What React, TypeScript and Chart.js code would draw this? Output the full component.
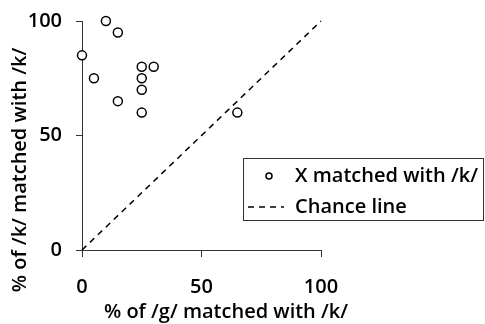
import React, { useEffect, useRef } from "react";
import { Chart, registerables } from "chart.js";

Chart.register(...registerables);

const gPercent = [0, 5, 10, 15, 15, 25, 25, 25, 25, 30, 65];
const kPercent = [85, 75, 100, 95, 65, 80, 75, 70, 60, 80, 60];
const chanceX = [0, 100];
const chanceY = [0, 100];
const tickValues = [0, 50, 100];
const seriesLabels = ["X matched with /k/", "Chance line"];
const xTitle = "% of /g/ matched with /k/";
const yTitle = "% of /k/ matched with /k/";

const FONT = "'Open Sans', 'DejaVu Sans', sans-serif";

const overlayPlugin = {
  id: "overlay",
  afterDraw(chart: any) {
    const ctx = chart.ctx as CanvasRenderingContext2D;
    ctx.save();
    ctx.fillStyle = "#000";
    ctx.strokeStyle = "#000";
    ctx.font = `600 20px ${FONT}`;
    ctx.textBaseline = "middle";
    ctx.textAlign = "center";
    ctx.fillText(xTitle, 226, 312);
    ctx.save();
    ctx.translate(20, 170);
    ctx.rotate(-Math.PI / 2);
    ctx.fillText(yTitle, 0, 0);
    ctx.restore();
    ctx.lineWidth = 1;
    ctx.strokeStyle = "#333";
    ctx.fillStyle = "#fff";
    ctx.fillRect(243.5, 158.5, 240, 62);
    ctx.strokeRect(243.5, 158.5, 240, 62);
    ctx.strokeStyle = "#000";
    ctx.fillStyle = "#000";
    ctx.textAlign = "left";
    ctx.lineWidth = 1.5;
    ctx.beginPath();
    ctx.arc(269, 176, 3, 0, Math.PI * 2);
    ctx.stroke();
    ctx.setLineDash([6, 5]);
    ctx.beginPath();
    ctx.moveTo(248, 207);
    ctx.lineTo(284, 207);
    ctx.stroke();
    ctx.setLineDash([]);
    ctx.font = `600 19px ${FONT}`;
    const w = ctx.measureText(seriesLabels[0]).width;
    const sx = 183 / w;
    ctx.save();
    ctx.translate(295, 177);
    ctx.scale(sx, 1);
    ctx.fillText(seriesLabels[0], 0, 0);
    ctx.restore();
    ctx.save();
    ctx.translate(295, 208);
    ctx.scale(sx, 1);
    ctx.fillText(seriesLabels[1], 0, 0);
    ctx.restore();
    ctx.restore();
  },
};

export default function App() {
  const ref = useRef<HTMLCanvasElement>(null);
  useEffect(() => {
    document.body.style.margin = "0";
    const points = gPercent.map((x, i) => ({ x, y: kPercent[i] }));
    const chance = chanceX.map((x, i) => ({ x, y: chanceY[i] }));
    const tickFont = { family: FONT, size: 20, weight: "600" as any };
    const chart = new Chart(ref.current!, {
      type: "scatter",
      data: {
        datasets: [
          {
            label: seriesLabels[1],
            data: chance,
            showLine: true,
            borderColor: "#000",
            borderWidth: 1.5,
            borderDash: [6, 5],
            pointRadius: 0,
            clip: false as any,
          },
          {
            label: seriesLabels[0],
            data: points,
            pointRadius: 4.5,
            pointBorderWidth: 1.5,
            pointBorderColor: "#000",
            pointBackgroundColor: "#fff",
            clip: false as any,
          },
        ],
      },
      options: {
        animation: false,
        responsive: false,
        devicePixelRatio: 1,
        layout: { padding: { left: 0, top: 21, right: 164, bottom: 0 } },
        plugins: { legend: { display: false }, tooltip: { enabled: false } },
        scales: {
          x: {
            type: "linear",
            min: 0,
            max: 100,
            afterFit: (s: any) => {
              s.height = 74;
              s.paddingLeft = 0;
              s.paddingRight = 0;
            },
            afterBuildTicks: (s: any) => {
              s.ticks = tickValues.map((v) => ({ value: v }));
            },
            border: { color: "#333", width: 1 },
            grid: { drawOnChartArea: false, tickLength: 7, color: "#333", tickColor: "#333" },
            ticks: { color: "#000", font: tickFont, padding: 18, maxRotation: 0 },
          },
          y: {
            type: "linear",
            min: 0,
            max: 100,
            afterFit: (s: any) => {
              s.width = 82;
              s.paddingTop = 0;
              s.paddingBottom = 0;
            },
            afterBuildTicks: (s: any) => {
              s.ticks = tickValues.map((v) => ({ value: v }));
            },
            border: { color: "#333", width: 1 },
            grid: { drawOnChartArea: false, tickLength: 6, color: "#333", tickColor: "#333" },
            ticks: { color: "#000", font: tickFont, padding: 14 },
          },
        },
      },
      plugins: [overlayPlugin],
    });
    return () => chart.destroy();
  }, []);
  return (
    <div style={{ width: 485, height: 324 }}>
      <canvas ref={ref} width={485} height={324} style={{ width: 485, height: 324 }} />
    </div>
  );
}
